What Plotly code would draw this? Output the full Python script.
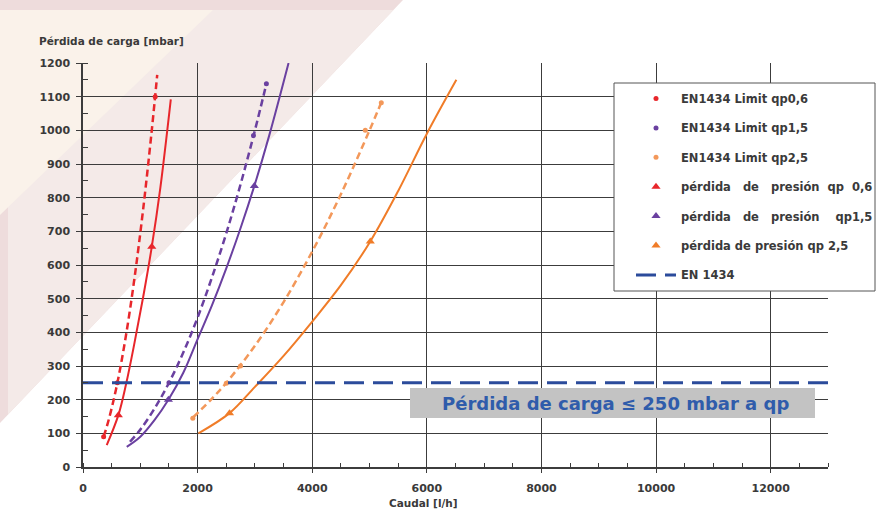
import plotly.graph_objects as go

# ---------------- data ----------------
# EN1434 limit curves (dashed)
q_lim_06 = [360, 450, 600, 750, 900, 1050, 1200, 1295]
dp_lim_06 = [90, 141, 250, 391, 563, 766, 1000, 1165]
q_lim_15 = [820, 1000, 1250, 1500, 1750, 2000, 2250, 2500, 2750, 3000, 3200]
dp_lim_15 = [75, 111, 174, 250, 340, 444, 563, 694, 840, 1000, 1138]
q_lim_25 = [1920, 2250, 2500, 3000, 3500, 4000, 4500, 5000, 5210]
dp_lim_25 = [147, 203, 250, 360, 490, 640, 810, 1000, 1085]

# EN1434 limit points (dots)
q_pt_06 = [360, 600, 1260]
dp_pt_06 = [90, 250, 1100]
q_pt_15 = [1500, 2975, 3200]
dp_pt_15 = [250, 985, 1138]
q_pt_25 = [1916, 2500, 2748, 4926, 5205]
dp_pt_25 = [145, 249, 300, 1000, 1082]

# measured pressure loss curves (solid)
q_pp_06 = [414, 617, 750, 900, 1050, 1200, 1350, 1532]
dp_pp_06 = [65, 154, 245, 370, 505, 654, 830, 1092]
q_pp_15 = [763, 1000, 1250, 1490, 1750, 2000, 2250, 2500, 2750, 2990, 3250, 3587]
dp_pp_15 = [60, 90, 140, 200, 280, 380, 480, 590, 710, 835, 985, 1200]
q_pp_25 = [2014, 2557, 3000, 3500, 4000, 4500, 5013, 5500, 6000, 6515]
dp_pp_25 = [100, 160, 238, 330, 432, 540, 670, 820, 990, 1150]

# measured points (triangles)
q_tri_06 = [617, 1200]
dp_tri_06 = [154, 654]
q_tri_15 = [1490, 2990]
dp_tri_15 = [200, 835]
q_tri_25 = [2557, 5013]
dp_tri_25 = [160, 670]

# EN 1434 limit line
q_en = [0, 13000]
dp_en = [250, 250]

x_ticks = [0, 2000, 4000, 6000, 8000, 10000, 12000]
y_ticks = list(range(0, 1201, 100))

# ---------------- style ----------------
RED = "#e8262b"
PURPLE = "#6a40a0"
ORANGE = "#f07c28"
ORANGE_L = "#f3985a"
BLUE = "#2b4b9b"
FONT = "DejaVu Sans"
TXT = "#3a3a3a"

W, H = 876, 512
L, R, T, B = 83, 828, 63, 467


def px(x, y):
    return (x - L) / (R - L), (B - y) / (B - T)


def path(points):
    s = ""
    for i, (x, y) in enumerate(points):
        a, b = px(x, y)
        s += ("M" if i == 0 else "L") + f"{a:.4f},{b:.4f} "
    return s + "Z"


fig = go.Figure()

NB = "\u00a0"

# limit curves (dashed, no legend)
for q, d, c in [(q_lim_06, dp_lim_06, RED), (q_lim_15, dp_lim_15, PURPLE), (q_lim_25, dp_lim_25, ORANGE_L)]:
    fig.add_trace(go.Scatter(x=q, y=d, mode="lines", showlegend=False, hoverinfo="skip",
                             line=dict(color=c, width=2.5, dash="7px,4px", shape="spline")))

# measured curves (solid, no legend)
for q, d, c in [(q_pp_06, dp_pp_06, RED), (q_pp_15, dp_pp_15, PURPLE), (q_pp_25, dp_pp_25, ORANGE)]:
    fig.add_trace(go.Scatter(x=q, y=d, mode="lines", showlegend=False, hoverinfo="skip",
                             line=dict(color=c, width=2, shape="spline", smoothing=1)))

# legend series
fig.add_trace(go.Scatter(x=q_pt_06, y=dp_pt_06, mode="markers", name="EN1434 Limit qp0,6",
                         legendgroup="a", marker=dict(color=RED, size=5)))
fig.add_trace(go.Scatter(x=q_pt_15, y=dp_pt_15, mode="markers", name="EN1434 Limit qp1,5",
                         legendgroup="b", marker=dict(color=PURPLE, size=5)))
fig.add_trace(go.Scatter(x=q_pt_25, y=dp_pt_25, mode="markers", name="EN1434 Limit qp2,5",
                         legendgroup="c", marker=dict(color=ORANGE_L, size=5)))
fig.add_trace(go.Scatter(x=q_tri_06, y=dp_tri_06, mode="markers",
                         name=f"pérdida {NB}{NB}de {NB}{NB}presión {NB}qp {NB}0,6",
                         legendgroup="d", marker=dict(color=RED, size=8, symbol="triangle-up")))
fig.add_trace(go.Scatter(x=q_tri_15, y=dp_tri_15, mode="markers",
                         name=f"pérdida {NB}{NB}de {NB}{NB}presión {NB}{NB}{NB}qp1,5",
                         legendgroup="e", marker=dict(color=PURPLE, size=8, symbol="triangle-up")))
fig.add_trace(go.Scatter(x=q_tri_25, y=dp_tri_25, mode="markers",
                         name="pérdida de presión qp 2,5",
                         legendgroup="f", marker=dict(color=ORANGE, size=8, symbol="triangle-up")))
fig.add_trace(go.Scatter(x=q_en, y=dp_en, mode="lines", name="EN 1434", legendgroup="g",
                         line=dict(color=BLUE, width=3, dash="20px,9px")))

shapes = [
    # background decoration
    dict(type="path", xref="paper", yref="paper", layer="below", line=dict(width=0),
         fillcolor="#eedcdc", path=path([(0, 0), (403, 0), (0, 423)])),
    dict(type="path", xref="paper", yref="paper", layer="below", line=dict(width=0),
         fillcolor="#f4eae8", path=path([(8, 10), (393.5, 10), (8, 414.6)])),
    dict(type="path", xref="paper", yref="paper", layer="below", line=dict(width=0),
         fillcolor="#faf2ea", path=path([(0, 10), (213, 10), (0, 215)])),
]
# grey annotation box
x0, y0 = px(410, 418)
x1, y1 = px(815, 388)
shapes.append(dict(type="rect", xref="paper", yref="paper", x0=x0, x1=x1, y0=y0, y1=y1,
                   fillcolor="#c3c3c3", line=dict(width=0), layer="above"))
# legend frame
x0, y0 = px(614, 291)
x1, y1 = px(875, 83)
shapes.append(dict(type="rect", xref="paper", yref="paper", x0=x0, x1=x1, y0=y0, y1=y1,
                   fillcolor="white", line=dict(width=1, color="#555555"), layer="above"))

ax_x, ax_y = px(423, 503)
ay_x, ay_y = px(111, 41)
bx, by = px(615, 403)
lx, ly = px(631, 84)

fig.update_layout(
    width=W, height=H,
    margin=dict(l=L, r=W - R, t=T, b=H - B, autoexpand=False),
    paper_bgcolor="white", plot_bgcolor="rgba(0,0,0,0)",
    font=dict(family=FONT, size=11, color=TXT),
    showlegend=True,
    legend=dict(x=lx, y=ly, xanchor="left", yanchor="top", bgcolor="rgba(0,0,0,0)",
                borderwidth=0, traceorder="grouped",
                tracegroupgap=10.4, font=dict(family=FONT, size=11.5, color=TXT, weight="bold"),
                itemwidth=40),
    shapes=shapes,
    annotations=[
        dict(text="<b>Caudal [l/h]</b>", xref="paper", yref="paper", x=ax_x, y=ax_y,
             xanchor="center", yanchor="middle", showarrow=False, font=dict(size=10.5, color=TXT)),
        dict(text="<b>Pérdida de carga [mbar]</b>", xref="paper", yref="paper", x=ay_x, y=ay_y,
             xanchor="center", yanchor="middle", showarrow=False, font=dict(size=10.5, color=TXT)),
        dict(text="<b>Pérdida de carga ≤ 250 mbar a qp</b>", xref="paper", yref="paper",
             x=bx, y=by, xanchor="center", yanchor="middle", showarrow=False,
             font=dict(size=18, color="#2f5cab")),
    ],
)

fig.update_xaxes(range=[0, 13000], tickvals=x_ticks, tickformat="d", showgrid=True,
                 gridcolor="#3c3c3c", gridwidth=1.3, zeroline=False, showline=True,
                 linecolor="#3c3c3c", linewidth=1.5,
                 ticks="outside", ticklen=4, tickcolor="#3c3c3c", tickwidth=1.3,
                 minor=dict(dtick=500, ticks="inside", ticklen=4, tickcolor="#3c3c3c", showgrid=False),
                 tickfont=dict(size=11, color=TXT, weight="bold"), ticklabelstandoff=6,
                 fixedrange=True)
fig.update_yaxes(range=[0, 1200], tickvals=y_ticks, tickformat="d", showgrid=True,
                 gridcolor="#3c3c3c", gridwidth=1.3, zeroline=False, showline=True,
                 linecolor="#3c3c3c", linewidth=1.5,
                 ticks="outside", ticklen=5, tickcolor="#3c3c3c", tickwidth=1.3,
                 minor=dict(dtick=50, ticks="inside", ticklen=5, tickcolor="#3c3c3c", showgrid=False),
                 tickfont=dict(size=11, color=TXT, weight="bold"), ticklabelstandoff=4,
                 fixedrange=True)

fig.write_html("out.html", config={"displayModeBar": False},
               post_script="document.body.style.margin='0px';")
